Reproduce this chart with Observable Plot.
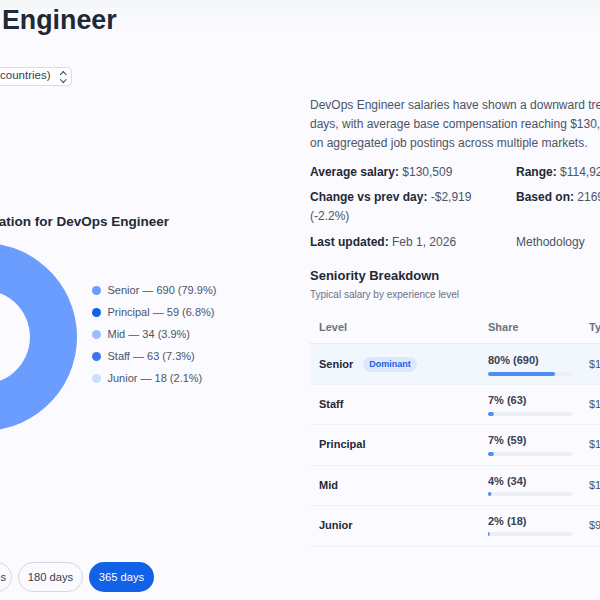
<!DOCTYPE html>
<html><head><meta charset="utf-8">
<script src="https://cdn.jsdelivr.net/npm/d3@7"></script>
<script src="https://cdn.jsdelivr.net/npm/@observablehq/plot@0.6"></script>
<style>
html,body{margin:0;padding:0;width:600px;height:600px;overflow:hidden;background:linear-gradient(#f4f6f8 0,#f8f9fb 12px,#fafaff 35px);background-repeat:no-repeat;background-color:#fafaff;font-family:"Liberation Sans",Arial,sans-serif;color:#4b5563}
#page{position:relative;width:600px;height:600px;overflow:hidden}
.t{position:absolute;white-space:nowrap;line-height:1}
.t b{color:#1f2937;font-weight:700}
svg{position:absolute;overflow:visible;background:transparent}
</style></head><body><div id="page"></div>
<script>
// Donut / legend data
const levels = ["Senior","Principal","Mid","Staff","Junior"];
const counts = [690,59,34,63,18];
const percents = [79.9,6.8,3.9,7.3,2.1];
const colors = ["#6a9dfd","#1261e6","#9dbdfb","#3b76ec","#cadefe"];
// Table data
const tableLevels = ["Senior","Staff","Principal","Mid","Junior"];
const tableShares = [80,7,7,4,2];
const tableCounts = [690,63,59,34,18];
const tableSalaryPrefix = ["$1","$1","$1","$1","$9"];
// Text as visible in the reference
const intro = ["DevOps Engineer salaries have shown a downward tre","days, with average base compensation reaching $130,","on aggregated job postings across multiple markets."];
const pills = ["s","180 days","365 days"];

const page = document.getElementById("page");
function el(cls, css, html){const d=document.createElement("div");d.className=cls;d.style.cssText=css;d.innerHTML=html||"";page.appendChild(d);return d;}
function text(x,y,size,html,extra=""){return el("t",`left:${x}px;top:${y-size/2}px;font-size:${size}px;${extra}`,html);}

// Header
el("t","left:2px;top:6.5px;font-size:26.8px;font-weight:700;color:#1f2937","Engineer");
el("","position:absolute;left:-40px;top:67px;width:110px;height:17px;background:#fff;border:1px solid #d9dce1;border-radius:4px");
el("t","left:0px;top:70px;font-size:11.5px;color:#374151","countries)");
el("","position:absolute;left:61px;top:72px;width:3.5px;height:3.5px;border-left:1.2px solid #374151;border-top:1.2px solid #374151;transform:rotate(45deg)");
el("","position:absolute;left:61px;top:77px;width:3.5px;height:3.5px;border-right:1.2px solid #374151;border-bottom:1.2px solid #374151;transform:rotate(45deg)");

// Donut title
el("t","right:431px;top:215px;font-size:13.5px;font-weight:700;color:#1f2937","ation for DevOps Engineer");

// Donut
const pieRows = d3.pie().sort(null)(counts).map((a,i)=>({...a,level:levels[i],color:colors[i]}));
const donut = Plot.plot({
  width:188,height:188,margin:0,
  x:{domain:[-1,1],axis:null},y:{domain:[-1,1],axis:null},
  marks:[Plot.dot(pieRows,{
    x:d=>Math.sin((d.startAngle+d.endAngle)/2)*0.75,
    y:d=>Math.cos((d.startAngle+d.endAngle)/2)*0.75,
    render(index,scales,values,dims,ctx){
      const R=scales.x(1)-scales.x(0);
      const arc=d3.arc().innerRadius(R*0.5).outerRadius(R);
      const g=d3.select(ctx.document.createElementNS("http://www.w3.org/2000/svg","g"))
        .attr("transform",`translate(${scales.x(0)},${scales.y(0)})`);
      g.selectAll("path").data(pieRows).join("path").attr("d",arc).attr("fill",d=>d.color);
      return g.node();
    }
  })]
});
donut.style.cssText="left:-111px;top:243px;";
page.appendChild(donut);

// Legend
const legendRows = levels.map((l,i)=>({level:l,label:`${l} — ${counts[i]} (${percents[i].toFixed(1)}%)`,color:colors[i]}));
const legend = Plot.plot({
  width:180,height:112,margin:0,
  x:{domain:[0,1],range:[6,176],axis:null},
  y:{type:"point",domain:levels,range:[11,100.5],padding:0,axis:null},
  marks:[
    Plot.dot(legendRows,{x:()=>0,y:"level",r:4.5,fill:"color"}),
    Plot.text(legendRows,{x:()=>0,y:"level",text:"label",dx:11,textAnchor:"start",fontSize:11,fill:"#4b5563",fontFamily:"Liberation Sans"})
  ]
});
legend.style.cssText="left:90px;top:277.5px;";
page.appendChild(legend);

// Pills
el("","position:absolute;left:-50px;top:562px;width:60px;height:28px;border:1px solid #d5d8dd;border-radius:15px");
text(0.5,577,11,pills[0],"font-weight:500;color:#374151");
el("t","left:18px;top:562px;width:63px;height:28px;border:1px solid #d5d8dd;border-radius:15px;font-size:11.2px;color:#374151;line-height:28px;text-align:center",pills[1]);
el("t","left:89px;top:562px;width:65px;height:30px;background:#1261e6;border-radius:15px;font-size:11.2px;color:#fff;line-height:30px;text-align:center",pills[2]);

// Intro
intro.forEach((s,i)=>text(310,105+19*i,12,s,"color:#4b5563"));

// Stats
text(310,172,12,"<b>Average salary:</b> $130,509");
text(516,172,12,"<b>Range:</b> $114,92");
text(310,197,12,"<b>Change vs prev day:</b> -$2,919");
text(516,197,12,"<b>Based on:</b> 2169");
text(310,216,12,"(-2.2%)");
text(310,242,12,"<b>Last updated:</b> Feb 1, 2026");
text(516,242,12,"Methodology");

// Table
text(310,275,13,"Seniority Breakdown","font-weight:700;color:#1f2937");
text(310,295,10,"Typical salary by experience level","color:#6b7280");
text(319,327,11,"Level","font-weight:700;color:#6b7280");
text(488,327,11,"Share","font-weight:700;color:#6b7280");
text(589,327,11,"Ty","font-weight:700;color:#6b7280");
el("","position:absolute;left:310px;top:343px;width:290px;height:1px;background:#e8ebf0");
el("","position:absolute;left:310px;top:344px;width:290px;height:40px;background:#f2f7fe");
tableLevels.forEach((l,i)=>{
  const top=344+40.4*i;
  text(319,top+20,11,l,"font-weight:700;color:#1f2937");
  text(488,top+16,11,`${tableShares[i]}% (${tableCounts[i]})`,"font-weight:700;color:#374151");
  text(589,top+20,11,tableSalaryPrefix[i]);
  el("",`position:absolute;left:310px;top:${top+40}px;width:290px;height:1px;background:#edf0f4`);
});
el("t","left:363px;top:357px;width:54px;height:15px;background:#dbe8fd;border-radius:8px;font-size:9px;font-weight:700;color:#1d60e0;line-height:15px;text-align:center","Dominant");

// Share bars
const shareRows = tableLevels.map((l,i)=>({level:l,share:tableShares[i]}));
const bars = Plot.plot({
  width:84,height:202,margin:0,
  x:{domain:[0,100],axis:null},
  y:{type:"band",domain:tableLevels,paddingInner:0.9,paddingOuter:0.45,axis:null},
  marks:[
    Plot.barX(shareRows,{x:()=>100,y:"level",fill:"#eceff5",rx:2}),
    Plot.barX(shareRows,{x:"share",y:"level",fill:"#4d8df5",rx:2})
  ]
});
bars.style.cssText="left:488px;top:353.3px;";
page.appendChild(bars);
</script></body></html>
